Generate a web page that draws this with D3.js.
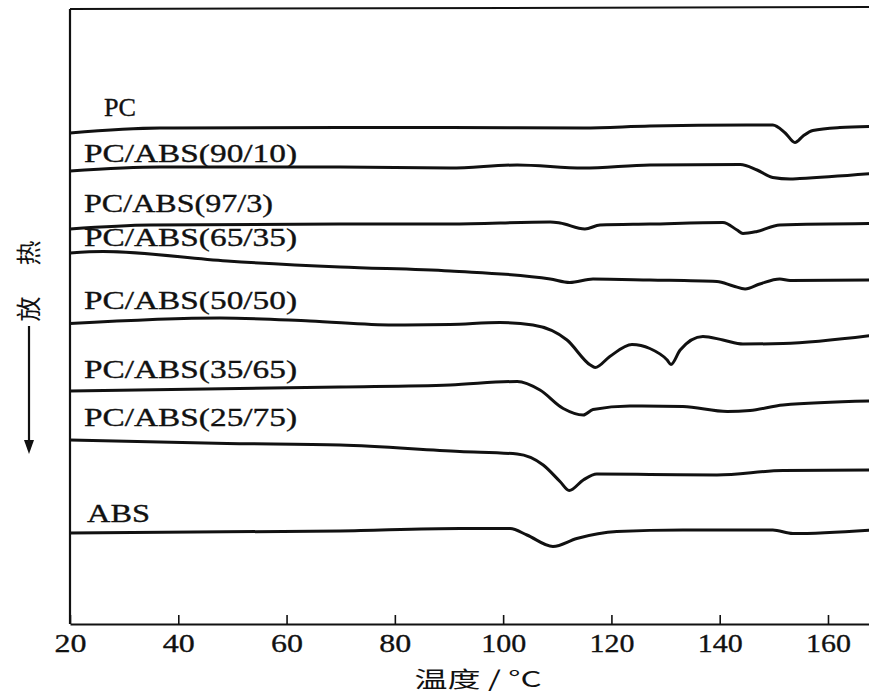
<!DOCTYPE html>
<html>
<head>
<meta charset="utf-8">
<script src="https://cdn.jsdelivr.net/npm/d3@7"></script>
<style>
  body { margin: 0; background: #fff; }
  svg { display: block; }
</style>
</head>
<body>
<svg id="chart" width="869" height="695"></svg>
<script>
// DSC heating traces of PC, ABS and their blends (arbitrary heat-flow units, curves offset vertically)
const seriesNames = ["PC", "PC/ABS(90/10)", "PC/ABS(97/3)", "PC/ABS(65/35)",
                     "PC/ABS(50/50)", "PC/ABS(35/65)", "PC/ABS(25/75)", "ABS"];

const tempPC   = [20, 36.6, 69.9, 90.2, 114.8, 127.1, 145.0, 149.8, 152.1, 153.9, 155.4, 157.2, 162.2, 168];
const flowPC   = [49.1, 49.6, 49.65, 49.65, 49.6, 49.8, 49.9, 49.9, 49.1, 48.15, 48.8, 49.35, 49.65, 49.75];

const temp9010 = [20, 36.6, 69.9, 90.2, 102.6, 114.8, 127.1, 143.8, 146.9, 149.8, 153.0, 154.8, 168];
const flow9010 = [45.3, 45.7, 45.7, 45.6, 45.9, 45.6, 45.9, 45.95, 45.4, 44.65, 44.5, 44.55, 45.05];

const temp973  = [20, 34.8, 69.9, 90.2, 108.7, 110.5, 115.1, 117.9, 127.1, 140.6, 143.2, 144.3, 146.9, 151.1, 168];
const flow973  = [39.5, 39.9, 40.0, 40.0, 40.2, 40.1, 39.5, 39.9, 40.0, 40.15, 39.4, 39.05, 39.25, 39.9, 40.05];

const temp6535 = [20, 26.1, 49.0, 69.9, 90.2, 108.7, 112.3, 116.6, 127.1, 139.5, 142.5, 144.7, 147.4, 151.1, 153.0, 168];
const flow6535 = [37.1, 37.25, 36.3, 35.7, 35.3, 34.5, 34.15, 34.5, 34.4, 34.25, 33.8, 33.5, 34.0, 34.5, 34.35, 34.4];

const temp5050 = [20, 47.7, 64.3, 79.7, 90.2, 99.4, 105.5, 111.8, 116.1, 117.0, 119.7, 123.8, 127.1, 130.3, 131.0, 132.7, 136.9, 140.6, 144.3, 151.7, 168];
const flow5050 = [30.05, 30.6, 30.3, 29.9, 29.95, 30.15, 29.9, 28.4, 25.9, 25.65, 26.75, 27.95, 27.55, 26.4, 25.95, 27.4, 28.75, 28.4, 28.0, 28.05, 28.85];

const temp3565 = [20, 69.9, 90.2, 102.6, 106.8, 111.1, 114.8, 116.6, 123.4, 133.2, 141.4, 145.6, 151.7, 168];
const flow3565 = [23.3, 23.7, 23.9, 24.25, 23.4, 21.55, 20.9, 21.45, 21.8, 21.75, 21.25, 21.35, 21.9, 22.3];

const temp2575 = [20, 49.0, 69.9, 92.0, 102.6, 107.4, 110.5, 112.2, 114.8, 117.3, 127.1, 139.5, 151.7, 168];
const flow2575 = [18.4, 18.05, 17.9, 17.25, 17.0, 15.9, 14.25, 13.35, 14.4, 15.0, 14.95, 14.9, 15.35, 15.4];

const tempABS  = [20, 69.9, 92.0, 101.3, 104.4, 109.2, 113.6, 121.0, 133.2, 149.8, 153.5, 168];
const flowABS  = [9.1, 9.3, 9.55, 9.55, 8.9, 7.75, 8.55, 9.25, 9.4, 9.4, 9.05, 9.4];

const tickValues = [20, 40, 60, 80, 100, 120, 140, 160];
const xTitle = "温度 / °C";
const yTitleChars = ["放", "热"];

const seriesTemps = [tempPC, temp9010, temp973, temp6535, temp5050, temp3565, temp2575, tempABS];
const seriesFlows = [flowPC, flow9010, flow973, flow6535, flow5050, flow3565, flow2575, flowABS];

// label layout: left edge, baseline, drawn width (px)
const labelLayout = [
  { x: 104, y: 116, w: 32 },
  { x: 84, y: 162, w: 213 },
  { x: 84, y: 212, w: 189 },
  { x: 84, y: 246, w: 213 },
  { x: 84, y: 309, w: 213 },
  { x: 84, y: 378, w: 213 },
  { x: 84, y: 426, w: 213 },
  { x: 87, y: 522, w: 63 }
];

const svg = d3.select("#chart");
const W = 869, H = 695;
svg.append("rect").attr("width", W).attr("height", H).attr("fill", "#fff");

const x = d3.scaleLinear().domain([20, 168]).range([70, 871.3]);
const y = d3.scaleLinear().domain([0, 62]).range([624, 4]);
const yTop = 61.5;

const ink = "#111";
const serif = "'Liberation Serif', 'Times New Roman', serif";

// frame: left spine and top border
svg.append("line")
  .attr("x1", x(20)).attr("x2", x(20))
  .attr("y1", y(yTop)).attr("y2", y(0))
  .attr("stroke", ink).attr("stroke-width", 2.2);
svg.append("line")
  .attr("x1", x(20)).attr("x2", W)
  .attr("y1", y(yTop)).attr("y2", y(yTop) - 2)
  .attr("stroke", ink).attr("stroke-width", 2);

// bottom axis with inward ticks
const xAxis = d3.axisBottom(x)
  .tickValues(tickValues)
  .tickSizeInner(-9)
  .tickSizeOuter(0)
  .tickFormat(d3.format("d"));

const gx = svg.append("g")
  .attr("transform", `translate(0,${y(0)})`)
  .call(xAxis);
gx.select(".domain").attr("stroke", ink).attr("stroke-width", 2.2);
gx.selectAll(".tick line").attr("stroke", ink).attr("stroke-width", 1.6);
gx.selectAll(".tick text")
  .attr("y", 28).attr("dy", 0)
  .attr("fill", ink)
  .attr("stroke", ink).attr("stroke-width", 0.3)
  .style("font-family", serif)
  .style("font-size", "25px")
  .attr("textLength", d => d >= 100 ? 45 : 32)
  .attr("lengthAdjust", "spacingAndGlyphs");

// x title
svg.append("text")
  .attr("x", 478).attr("y", 687)
  .attr("text-anchor", "middle")
  .attr("fill", ink)
  .style("font-family", "'Noto Sans CJK SC', sans-serif")
  .style("font-size", "22px")
  .attr("textLength", 127)
  .attr("lengthAdjust", "spacingAndGlyphs")
  .text(xTitle);

// y title: rotated characters and a downward arrow
const yCharCenters = [309, 253];
yTitleChars.forEach((ch, i) => {
  svg.append("text")
    .attr("transform", `translate(29,${yCharCenters[i]}) rotate(-90)`)
    .attr("text-anchor", "middle")
    .attr("dy", "0.36em")
    .attr("fill", ink)
    .style("font-family", "'Noto Sans CJK SC', sans-serif")
    .style("font-size", "25px")
    .text(ch);
});
svg.append("line")
  .attr("x1", 29).attr("x2", 29)
  .attr("y1", 326).attr("y2", 446)
  .attr("stroke", ink).attr("stroke-width", 2.2);
svg.append("path")
  .attr("d", "M24,440 L29,454 L34,440 Z")
  .attr("fill", ink);

// curves
const line = d3.line()
  .x(d => x(d[0]))
  .y(d => y(d[1]))
  .curve(d3.curveMonotoneX);

const clip = svg.append("clipPath").attr("id", "plotClip");
clip.append("rect").attr("x", x(20)).attr("y", 0).attr("width", W - x(20)).attr("height", y(0));

const gCurves = svg.append("g").attr("clip-path", "url(#plotClip)");
seriesNames.forEach((name, i) => {
  const pts = seriesTemps[i].map((t, j) => [t, seriesFlows[i][j]]);
  gCurves.append("path")
    .datum(pts)
    .attr("d", line)
    .attr("fill", "none")
    .attr("stroke", ink)
    .attr("stroke-width", 3)
    .attr("stroke-linejoin", "round")
    .attr("stroke-linecap", "round");
});

// curve labels
seriesNames.forEach((name, i) => {
  const L = labelLayout[i];
  svg.append("text")
    .attr("x", L.x).attr("y", L.y)
    .attr("fill", ink)
    .attr("stroke", ink).attr("stroke-width", 0.35)
    .style("font-family", serif)
    .style("font-size", "25px")
    .attr("textLength", L.w)
    .attr("lengthAdjust", "spacingAndGlyphs")
    .text(name);
});
</script>
</body>
</html>
